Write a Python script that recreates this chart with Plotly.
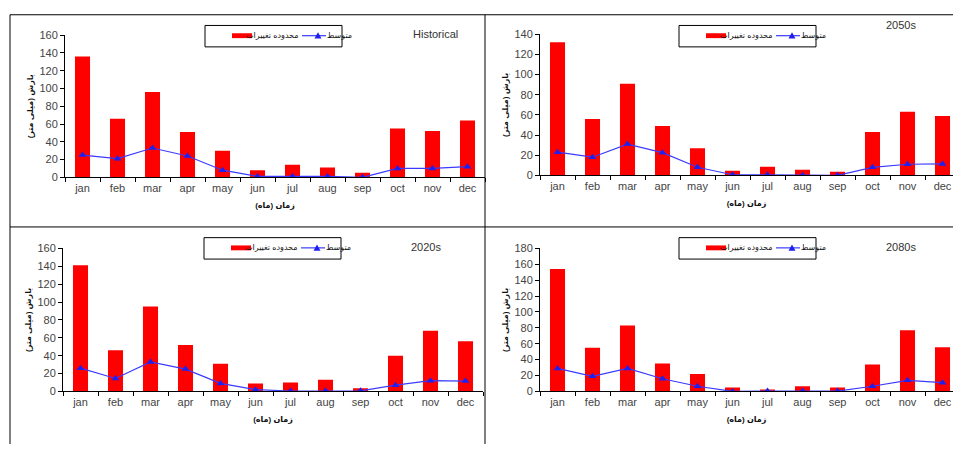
import plotly.graph_objects as go

months = ["jan", "feb", "mar", "apr", "may", "jun", "jul", "aug", "sep", "oct", "nov", "dec"]

hist_range = [136, 66, 96, 51, 30, 8, 14, 11, 5, 55, 52, 64]
hist_mean = [25, 21, 33, 24, 8, 1, 1, 1, 0, 10, 10, 12]

s2050_range = [132, 56, 91, 49, 27, 4.5, 8.5, 5.5, 3.5, 43, 63, 59]
s2050_mean = [23, 18, 31, 22.5, 8, 0.6, 0.6, 0, 0, 8, 11, 11.3]

s2020_range = [141, 46, 95, 52, 31, 9, 10, 13, 3.6, 40, 68, 56]
s2020_mean = [26, 14.5, 33, 25, 9, 2, 0.5, 0.7, 0.7, 7, 12, 11.6]

s2080_range = [154, 55, 83, 35, 22, 5, 2.4, 6.5, 5, 34, 77, 55.5]
s2080_mean = [29, 19, 29, 16, 6.5, 0, 0.4, 0.4, 0.4, 6.5, 14, 11]

titles = ["Historical", "2050s", "2020s", "2080s"]
range_name = "محدوده تغییرات"
mean_name = "متوسط"
ytitle = "<b>بارش (میلی متر)</b>"
xtitle = "<b>زمان (ماه)</b>"

BAR_COLOR = "#FF0000"
LINE_COLOR = "#3a3aff"
MARKER_COLOR = "#2020ee"

W, H = 953, 450
def fx(p):
    return p / W
def fy(p):
    return 1 - p / H

panels = [
    dict(r=hist_range, m=hist_mean, x0=65, x1=485, yb=176, yt=30, ymax=160, lx=205, ly=20, tx=435, ty=29, title=titles[0]),
    dict(r=s2050_range, m=s2050_mean, x0=540, x1=953, yb=174, yt=29, ymax=140, lx=679, ly=20, tx=901, ty=20, title=titles[1]),
    dict(r=s2020_range, m=s2020_mean, x0=63, x1=483, yb=396, yt=249, ymax=160, lx=204, ly=238, tx=426, ty=248, title=titles[2]),
    dict(r=s2080_range, m=s2080_mean, x0=540, x1=953, yb=396, yt=249, ymax=180, lx=679, ly=238, tx=901, ty=248, title=titles[3]),
]

fig = go.Figure()
font_family = "Liberation Sans, DejaVu Sans, Arial, sans-serif"
layout = dict(
    width=W, height=H, autosize=False,
    margin=dict(l=0, r=0, t=0, b=0),
    paper_bgcolor="white", plot_bgcolor="white",
    font=dict(family=font_family, size=11, color="#333333"),
    barmode="overlay", showlegend=False,
)
annotations = []
shapes = []

def paper_rect(x0, y0, x1, y1, **kw):
    return dict(type="rect", xref="paper", yref="paper",
                x0=fx(x0), x1=fx(x1), y0=fy(y1), y1=fy(y0), **kw)

def paper_line(x0, y0, x1, y1, color="black", width=1):
    return dict(type="line", xref="paper", yref="paper",
                x0=fx(x0), x1=fx(x1), y0=fy(y0), y1=fy(y1),
                line=dict(color=color, width=width))

for i, p in enumerate(panels):
    k = "" if i == 0 else str(i + 1)
    xa, ya = "x" + k, "y" + k
    fig.add_trace(go.Bar(
        x=months, y=p["r"], name=range_name, marker=dict(color=BAR_COLOR, line=dict(width=0)),
        width=0.43, xaxis=xa, yaxis=ya,
    ))
    fig.add_trace(go.Scatter(
        x=months, y=p["m"], name=mean_name, mode="lines+markers",
        line=dict(color=LINE_COLOR, width=1.2),
        marker=dict(symbol="triangle-up", size=7, color=MARKER_COLOR),
        xaxis=xa, yaxis=ya,
    ))
    ncat = (p["x1"] - p["x0"]) / 35.0
    layout["xaxis" + k] = dict(
        domain=[fx(p["x0"]), min(1.0, fx(p["x1"]))], anchor=ya,
        type="category", categoryorder="array", categoryarray=months,
        range=[-0.5, -0.5 + ncat],
        showline=True, linecolor="black", linewidth=1,
        ticks="outside", tickson="boundaries", ticklen=4, tickcolor="black",
        tickfont=dict(size=11, color="#444444"),
        showgrid=False, zeroline=False,
        title=dict(text=xtitle, font=dict(size=8, color="#111111"), standoff=9),
    )
    layout["yaxis" + k] = dict(
        domain=[fy(p["yb"]), fy(p["yt"])], anchor=xa,
        range=[0, p["ymax"]], dtick=20,
        showline=True, linecolor="black", linewidth=1,
        ticks="outside", ticklen=4, tickcolor="black",
        tickfont=dict(size=11, color="#444444"),
        showgrid=False, zeroline=False,
        title=dict(text=ytitle, font=dict(size=8, color="#111111"), standoff=4),
    )
    lx, ly = p["lx"], p["ly"]
    cy = ly + 10.5
    shapes.append(paper_rect(lx, ly, lx + 137, ly + 22, line=dict(color="black", width=1), fillcolor="white"))
    shapes.append(paper_rect(lx + 27, ly + 8, lx + 47, ly + 13, line=dict(width=0), fillcolor=BAR_COLOR))
    annotations.append(dict(
        text=range_name, x=fx(lx + 96), y=fy(cy), xref="paper", yref="paper",
        xanchor="right", yanchor="middle", showarrow=False,
        font=dict(size=8, color="#111111"),
    ))
    shapes.append(paper_line(lx + 97, cy, lx + 121, cy, color=LINE_COLOR, width=1.2))
    tx, ty = lx + 113, cy
    shapes.append(dict(
        type="path", xref="paper", yref="paper",
        path="M {:.5f} {:.5f} L {:.5f} {:.5f} L {:.5f} {:.5f} Z".format(
            fx(tx - 3.5), fy(ty + 3), fx(tx + 3.5), fy(ty + 3), fx(tx), fy(ty - 3.5)),
        fillcolor=MARKER_COLOR, line=dict(width=0),
    ))
    annotations.append(dict(
        text=mean_name, x=fx(lx + 120), y=fy(cy), xref="paper", yref="paper",
        xanchor="left", yanchor="middle", showarrow=False,
        font=dict(size=8, color="#111111"),
    ))
    annotations.append(dict(
        text=p["title"], x=fx(p["tx"]), y=fy(p["ty"]), xref="paper", yref="paper",
        xanchor="center", yanchor="middle", showarrow=False,
        font=dict(size=11, color="#333333"),
    ))

shapes += [
    paper_line(10, 9, 10, 450),
    paper_line(10, 9, 953, 9),
    paper_line(10, 227, 953, 227),
    paper_line(485, 9, 485, 450),
]
layout["annotations"] = annotations
layout["shapes"] = shapes
fig.update_layout(**layout)
fig.write_html(
    "out.html",
    config={"displayModeBar": False},
    post_script="document.body.style.margin='0';document.body.style.overflow='hidden';",
)
